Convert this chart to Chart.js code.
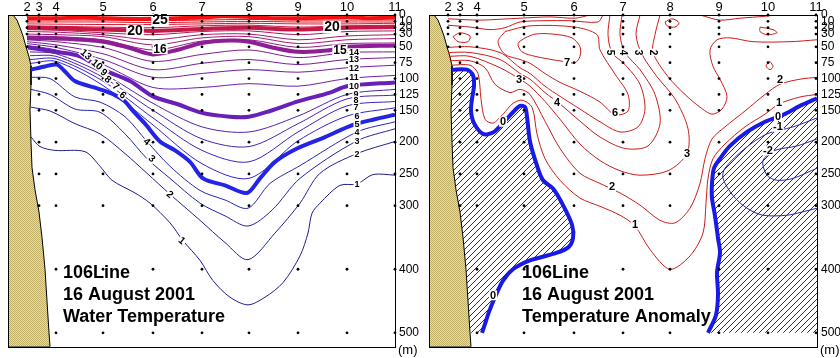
<!DOCTYPE html>
<html><head><meta charset="utf-8">
<script src="https://cdn.jsdelivr.net/npm/chart.js@4.4.1/dist/chart.umd.min.js"></script>
<style>
html,body{margin:0;padding:0;background:#fff;}
#wrap{position:relative;width:840px;height:358px;overflow:hidden;}
.pane{position:absolute;top:0;width:420px;height:358px;}
</style></head><body>
<div id="wrap">
<div class="pane" style="left:0"><canvas id="cT" width="420" height="358"></canvas></div>
<div class="pane" style="left:420px"><canvas id="cA" width="420" height="358"></canvas></div>
</div>
<script>
// ---------------- DATA ----------------
const stations = ['2','3','4','5','6','7','8','9','10','11'];
const stationDist = [0,12,29,76,126,175,222,271,320,368];
const stationMaxDepth = [50,300,500,500,500,500,500,500,500,500];
const sampleDepths = [0,10,20,30,50,75,100,125,150,200,250,300,400,500];
const depthTicks = [0,10,20,30,50,75,100,125,150,200,250,300,400,500];
const coast = [[-14,0],[-10,8],[-7,20],[-4,33],[-1,50],[2,66],[4,80],[4,110],[3,150],[4,200],[5,240],[8,275],[12,310],[15,350],[18,400],[20,450],[22,500],[23,522]];

// Water temperature isotherms [distance, depth]
const iso25 = [[0,5],[29,5],[55,4],[76,5],[100,6],[126,6],[150,5],[175,4],[195,2],[222,3],[245,5],[271,5],[300,4],[320,3],[340,5],[368,4]];
const iso24 = [[0,8],[76,8],[126,9],[175,8],[222,7],[271,8],[320,8],[368,8]];
const iso23 = [[0,11],[76,11],[126,12],[175,11],[222,10],[271,11],[320,11],[368,11]];
const iso22 = [[0,14],[76,15],[126,15],[175,14],[222,13],[271,14],[320,14],[368,13]];
const iso21 = [[0,17],[76,19],[126,20],[175,17],[222,16],[271,19],[320,17],[368,16]];
const iso20 = [[0,20],[29,21],[76,23],[126,25],[175,22],[222,20],[271,23],[320,20],[368,19]];
const iso19 = [[0,23],[29,24],[76,28],[126,31],[175,26],[222,25],[271,31],[320,26],[368,25]];
const iso18 = [[0,26],[29,27],[76,31],[126,39],[175,31],[222,30],[271,39],[320,33],[368,31]];
const iso17 = [[0,30],[29,31],[76,34],[126,47],[175,36],[222,34],[271,45],[320,39],[368,37]];
const iso16 = [[0,33],[29,34],[76,39],[126,55],[175,41],[222,39],[271,51],[320,45],[368,44]];
const iso15 = [[0,36],[29,37],[76,42],[103,52],[126,62],[150,55],[175,44],[203,40],[222,42],[248,52],[271,58],[300,56],[320,50],[368,48]];
const iso14 = [[0,39],[29,42],[76,51],[126,73],[175,62],[222,55],[271,67],[320,59],[368,58]];
const iso13 = [[0,42],[29,47],[76,61],[126,86],[175,76],[222,70],[271,78],[320,70],[368,67]];
const iso12 = [[0,45],[29,51],[76,70],[126,98],[175,92],[222,86],[271,90],[320,83],[368,79]];
const iso11 = [[0,48],[29,55],[76,78],[126,114],[175,114],[222,108],[271,112],[320,100],[368,95]];
const iso10 = [[1,51],[29,58],[53,65],[76,86],[103,104],[126,128],[150,140],[175,154],[203,160],[222,160],[243,151],[271,136],[303,122],[320,112],[368,106]];
const iso9 = [[3,58],[29,61],[76,92],[126,139],[175,176],[222,184],[271,159],[320,125],[368,117]];
const iso8 = [[3,64],[29,65],[76,98],[126,150],[175,195],[222,207],[271,171],[320,132],[368,126]];
const iso7 = [[3,70],[29,69],[76,104],[126,162],[175,213],[222,231],[271,184],[320,143],[368,136]];
const iso6 = [[4,76],[29,73],[76,111],[126,173],[175,234],[222,257],[271,198],[320,159],[368,146]];
const iso5 = [[4,86],[18,81],[30,78],[38,89],[48,104],[73,117],[88,126],[98,136],[106,151],[118,171],[133,199],[148,213],[163,231],[176,257],[198,268],[220,280],[233,257],[248,231],[270,210],[298,192],[326,173],[348,164],[368,157]];
const iso4 = [[4,98],[23,100],[48,129],[73,137],[98,160],[120,199],[143,238],[173,276],[198,291],[221,304],[243,265],[273,237],[330,184],[368,168]];
const iso3 = [[4,117],[23,125],[48,148],[73,153],[98,187],[120,226],[143,257],[173,296],[198,316],[221,332],[245,307],[273,257],[330,198],[368,179]];
const iso2 = [[4,145],[23,151],[48,171],[73,187],[98,218],[120,249],[143,282],[173,323],[198,358],[221,385],[248,343],[273,296],[293,249],[330,218],[368,199]];
const iso1 = [[4,192],[13,207],[28,213],[58,215],[73,238],[85,260],[108,280],[123,296],[143,327],[156,355],[173,386],[186,418],[203,444],[221,456],[238,444],[256,421],[273,379],[281,343],[285,312],[293,296],[313,268],[330,266],[346,251],[368,252]];

const tempBigLabels = [[133,8,'25'],[108,25,'20'],[305,19,'20']];
const tempMidLabels = [[133,53,'16'],[313,55,'15']];
const tempStackLabels = [[327,59,'14'],[327,70,'13'],[327,83,'12'],[327,98,'11'],[327,112,'10'],[329,125,'9'],[329,134,'8'],[329,145,'7'],[330,159,'6'],[330,171,'5'],[330,184,'4'],[330,198,'3'],[330,218,'2'],[330,266,'1']];
const tempDiagLabels = [[59,62,'13'],[70,78,'10'],[77,90,'9'],[81,101,'8'],[89,112,'7'],[96,126,'6'],[120,199,'4'],[125,226,'3'],[143,282,'2'],[155,355,'1']];

// Temperature anomaly contours
const anomZeroWest = [[4,86],[19,86],[25,95],[26,112],[24,132],[23,151],[26,170],[35,187],[45,185],[55,170],[65,153],[72,143],[77,145],[79,160],[82,199],[89,237],[95,260],[105,273],[115,299],[124,330],[125,351],[120,366],[107,375],[82,386],[65,400],[55,418],[47,444],[41,467],[37,486],[34,500]];
const anomZeroEast = [[369,131],[352,143],[335,157],[317,168],[299,184],[282,206],[272,226],[266,241],[264,265],[264,288],[267,316],[270,351],[272,374],[269,405],[270,439],[268,472],[260,500]];
const anomMinus1 = [[369,162],[345,176],[319,187],[297,210],[277,241],[275,257],[285,284],[299,304],[315,315],[339,315],[359,308],[369,304]];
const anomMinus2 = [[369,195],[349,206],[327,213],[315,229],[319,252],[329,260],[345,257],[369,241]];
const anom7 = [[77,36],[70,45],[74,58],[87,65],[115,73],[127,75],[132,65],[132,50],[124,36],[105,30],[87,30],[77,36]];
const anom6 = [[57,26],[50,42],[57,62],[72,70],[82,76],[97,92],[112,106],[132,120],[152,137],[167,157],[180,151],[180,125],[167,93],[152,55],[149,31],[127,19],[82,17],[57,26]];
const anom5 = [[-1,51],[22,50],[52,59],[72,83],[82,92],[97,112],[112,128],[132,148],[152,168],[172,184],[190,176],[197,148],[192,109],[177,78],[164,59],[160,31],[162,0]];
const anom4 = [[0,59],[22,59],[52,70],[72,92],[82,101],[97,122],[112,140],[132,167],[152,192],[177,210],[200,206],[212,171],[207,125],[192,86],[177,59],[172,31],[174,0]];
const anom3 = [[1,65],[22,65],[52,83],[72,101],[82,112],[97,136],[112,164],[132,203],[152,229],[172,245],[192,252],[220,245],[239,218],[240,179],[227,132],[209,97],[194,62],[188,31],[192,0]];
const anom2 = [[2,72],[22,72],[37,83],[47,109],[62,122],[72,117],[82,125],[97,167],[112,210],[132,249],[152,265],[172,280],[192,299],[212,323],[227,327],[242,304],[252,265],[257,226],[264,195],[277,176],[297,151],[317,125],[332,109],[352,101],[369,98]];
const anom2b = [[212,0],[207,31],[205,59],[220,97],[237,125],[252,145],[264,156],[274,148],[279,128],[272,101],[265,81],[262,55],[269,39],[282,36],[305,42],[342,42],[369,39]];
const anom1 = [[3,79],[22,79],[30,92],[33,132],[37,164],[45,170],[55,156],[65,139],[74,134],[84,145],[89,187],[97,226],[112,260],[132,288],[152,301],[172,315],[187,332],[202,369],[222,400],[242,379],[255,343],[258,296],[260,257],[265,226],[277,203],[297,176],[317,156],[331,140],[352,129],[369,125]];
const anomSurfA = [[0,6],[32,8],[72,5],[102,3],[127,5],[142,0]];
const anomSurfB = [[0,16],[22,19],[42,23],[57,20],[72,11],[97,9],[122,9],[150,11],[155,0]];
const anomSurfC = [[252,0],[272,8],[292,5],[317,2],[327,0]];
const anomLoopA = [[5,34],[12,28],[22,33],[20,42],[10,42],[5,34]];
const anomLoopB = [[217,11],[224,6],[231,12],[227,19],[219,17],[217,11]];
const anomLoopC = [[312,19],[325,23],[329,28],[319,31],[312,26],[312,19]];
const anomLoopD = [[322,73],[325,81],[322,86],[318,80],[322,73]];

const anomLabels = [[119,75,'7'],[71,101,'3'],[109,137,'4'],[167,153,'6'],[164,270,'2'],[187,330,'1'],[239,218,'3'],[332,101,'2'],[331,137,'1'],[55,168,'0'],[45,441,'0'],[330,159,'0'],[330,176,'-1'],[320,213,'-2']];
const anomVertLabels = [[162,59,'5'],[175,59,'4'],[190,59,'3'],[205,59,'2']];

// ---------------- STYLE / BUILD ----------------
const FONT = '"Liberation Sans", Arial, Helvetica, sans-serif';
function tempColor(t){
  const stops=[[1,[30,30,140]],[4,[38,38,176]],[5,[36,36,230]],[9,[84,34,168]],[10,[104,32,184]],[14,[124,30,140]],[15,[142,30,150]],[19,[178,26,88]],[20,[196,24,72]],[24,[226,22,32]],[25,[244,16,16]]];
  for(let i=0;i<stops.length-1;i++){const a=stops[i],b=stops[i+1];if(t>=a[0]&&t<=b[0]){const f=(t-a[0])/(b[0]-a[0]);const c=a[1].map((v,k)=>Math.round(v+(b[1][k]-v)*f));return `rgb(${c[0]},${c[1]},${c[2]})`;}}
  return '#000';
}
function pts(a){return a.map(p=>({x:p[0],y:p[1]}));}
function lineDS(a,color,width,order){return {data:pts(a),showLine:true,borderColor:color,borderWidth:width,pointRadius:0,tension:0.3,fill:false,order:order,clip:0};}
function polyDS(a,bg,border,bw,order){return {data:pts(a),showLine:true,borderColor:border,borderWidth:bw,backgroundColor:bg,pointRadius:0,tension:0,fill:'shape',order:order,clip:0};}
function hatchPattern(){const c=document.createElement('canvas');c.width=6;c.height=6;const g=c.getContext('2d');g.strokeStyle='#26268e';g.lineWidth=1;g.beginPath();g.moveTo(0,6);g.lineTo(6,0);g.moveTo(-1,1);g.lineTo(1,-1);g.moveTo(5,7);g.lineTo(7,5);g.stroke();return g.createPattern(c,'repeat');}
function landPattern(){const c=document.createElement('canvas');c.width=2;c.height=2;const g=c.getContext('2d');g.fillStyle='#e6dc98';g.fillRect(0,0,2,2);g.fillStyle='#c2b26a';g.fillRect(0,0,1,1);g.fillRect(1,1,1,1);return g.createPattern(c,'repeat');}
function dotsDS(){const d=[];stationDist.forEach((x,i)=>sampleDepths.forEach(z=>{if(z<=stationMaxDepth[i])d.push({x:x,y:z});}));return {data:d,showLine:false,pointRadius:1.4,pointBackgroundColor:'#000',pointBorderWidth:0,order:0,clip:4};}

const labelPlugin={id:'clabels',afterDatasetsDraw(chart,args,opts){
  const {ctx,scales:{x,y}}=chart;
  (opts.groups||[]).forEach(g=>{g.items.forEach(it=>{
    const px=x.getPixelForValue(it[0]),py=y.getPixelForValue(it[1]);
    ctx.save();ctx.translate(px,py);ctx.rotate((g.rot||0)*Math.PI/180);
    ctx.font=`bold ${g.size}px ${FONT}`;const w=ctx.measureText(it[2]).width;
    if(g.box){ctx.fillStyle='#fff';ctx.fillRect(-w/2-1,-g.size*0.45,w+2,g.size*0.9);}
    ctx.fillStyle='#000';ctx.textAlign='center';ctx.textBaseline='middle';ctx.fillText(it[2],0,0.5);ctx.restore();
  });});
}};
const framePlugin={id:'frame',afterDraw(chart,args,opts){
  const {ctx,chartArea:a}=chart;ctx.save();
  ctx.strokeStyle='#000';ctx.lineWidth=1;
  ctx.strokeRect(Math.round(a.left)+0.5,Math.round(a.top)+0.5,Math.round(a.right-a.left),Math.round(a.bottom-a.top));
  ctx.fillStyle='#000';ctx.font=`13px ${FONT}`;ctx.textBaseline='middle';ctx.textAlign='left';
  ctx.fillText('(m)',a.right+3,350);
  ctx.font=`bold 18px ${FONT}`;
  (opts.title||[]).forEach((t,i)=>ctx.fillText(t,opts.tx,273+i*22));
  ctx.restore();
}};

function makeChart(id,datasets,labelGroups,title,tx,padLeft,axisW,xMax){
  return new Chart(document.getElementById(id),{
    type:'scatter',
    data:{datasets:datasets},
    options:{
      responsive:false,animation:false,events:[],
      layout:{padding:{left:padLeft,right:0,top:0,bottom:8}},
      plugins:{legend:{display:false},tooltip:{enabled:false},clabels:{groups:labelGroups},frame:{title:title,tx:tx}},
      scales:{
        x:{type:'linear',position:'top',min:-19,max:xMax,
          grid:{display:false,drawTicks:false},border:{display:false},
          afterBuildTicks:s=>{s.ticks=stationDist.map(v=>({value:v}));},
          afterFit:s=>{s.height=15;},
          ticks:{autoSkip:false,maxRotation:0,minRotation:0,padding:0,color:'#000',font:{family:FONT,size:13},
            callback:(v,i)=>stations[i]}},
        y:{type:'linear',position:'right',reverse:true,min:0,max:522,
          grid:{display:false,drawTicks:false},border:{display:false},
          afterBuildTicks:s=>{s.ticks=depthTicks.map(v=>({value:v}));},
          afterFit:s=>{s.width=axisW;},
          ticks:{autoSkip:false,padding:4,color:'#000',font:{family:FONT,size:12},callback:v=>String(v)}}
      }
    },
    plugins:[labelPlugin,framePlugin]
  });
}

const landPoly = coast.concat([[-19,522],[-19,0]]);

// Left: water temperature
const isoList=[[25,iso25],[24,iso24],[23,iso23],[22,iso22],[21,iso21],[20,iso20],[19,iso19],[18,iso18],[17,iso17],[16,iso16],[15,iso15],[14,iso14],[13,iso13],[12,iso12],[11,iso11],[10,iso10],[9,iso9],[8,iso8],[7,iso7],[6,iso6],[5,iso5],[4,iso4],[3,iso3],[2,iso2],[1,iso1]];
const tDS=[];
isoList.forEach(([t,a])=>{const thick=t%5===0;tDS.push(lineDS(a,tempColor(t),thick?4:1,thick?4:6));});
tDS.push(polyDS(landPoly,landPattern(),'#000',1,10));
tDS.push(dotsDS());
makeChart('cT',tDS,[
  {items:tempBigLabels,size:14,box:true},
  {items:tempMidLabels,size:12,box:true},
  {items:tempStackLabels,size:9,box:true},
  {items:tempDiagLabels,size:10,box:true,rot:40}
],['106Line','16 August 2001','Water Temperature'],63,8,25,368);

// Right: temperature anomaly
const RED='#cc1c1c', BLUE='#1a1ae6', NAVY='#2a2aa8';
const westPoly = anomZeroWest.concat([[22,500]]).concat(coast.filter(p=>p[1]>86&&p[1]<500).reverse());
const eastPoly = anomZeroEast.concat([[369,500]]);
const aDS=[];
[anom7,anom6,anom5,anom4,anom3,anom2,anom2b,anom1,anomSurfA,anomSurfB,anomSurfC,anomLoopA,anomLoopB,anomLoopC,anomLoopD].forEach(a=>aDS.push(lineDS(a,RED,1,6)));
[anomMinus1,anomMinus2].forEach(a=>aDS.push(lineDS(a,NAVY,1,6)));
aDS.push(lineDS(anomZeroWest,BLUE,4,4));
aDS.push(lineDS(anomZeroEast,BLUE,4,4));
aDS.push(polyDS(westPoly,hatchPattern(),'rgba(0,0,0,0)',0,20));
aDS.push(polyDS(eastPoly,hatchPattern(),'rgba(0,0,0,0)',0,20));
aDS.push(polyDS(landPoly,landPattern(),'#000',1,10));
aDS.push(dotsDS());
makeChart('cA',aDS,[
  {items:anomLabels,size:11,box:true},
  {items:anomVertLabels,size:10,box:true,rot:90}
],['106Line','16 August 2001','Temperature Anomaly'],102,9,23,369);
</script>
</body></html>
